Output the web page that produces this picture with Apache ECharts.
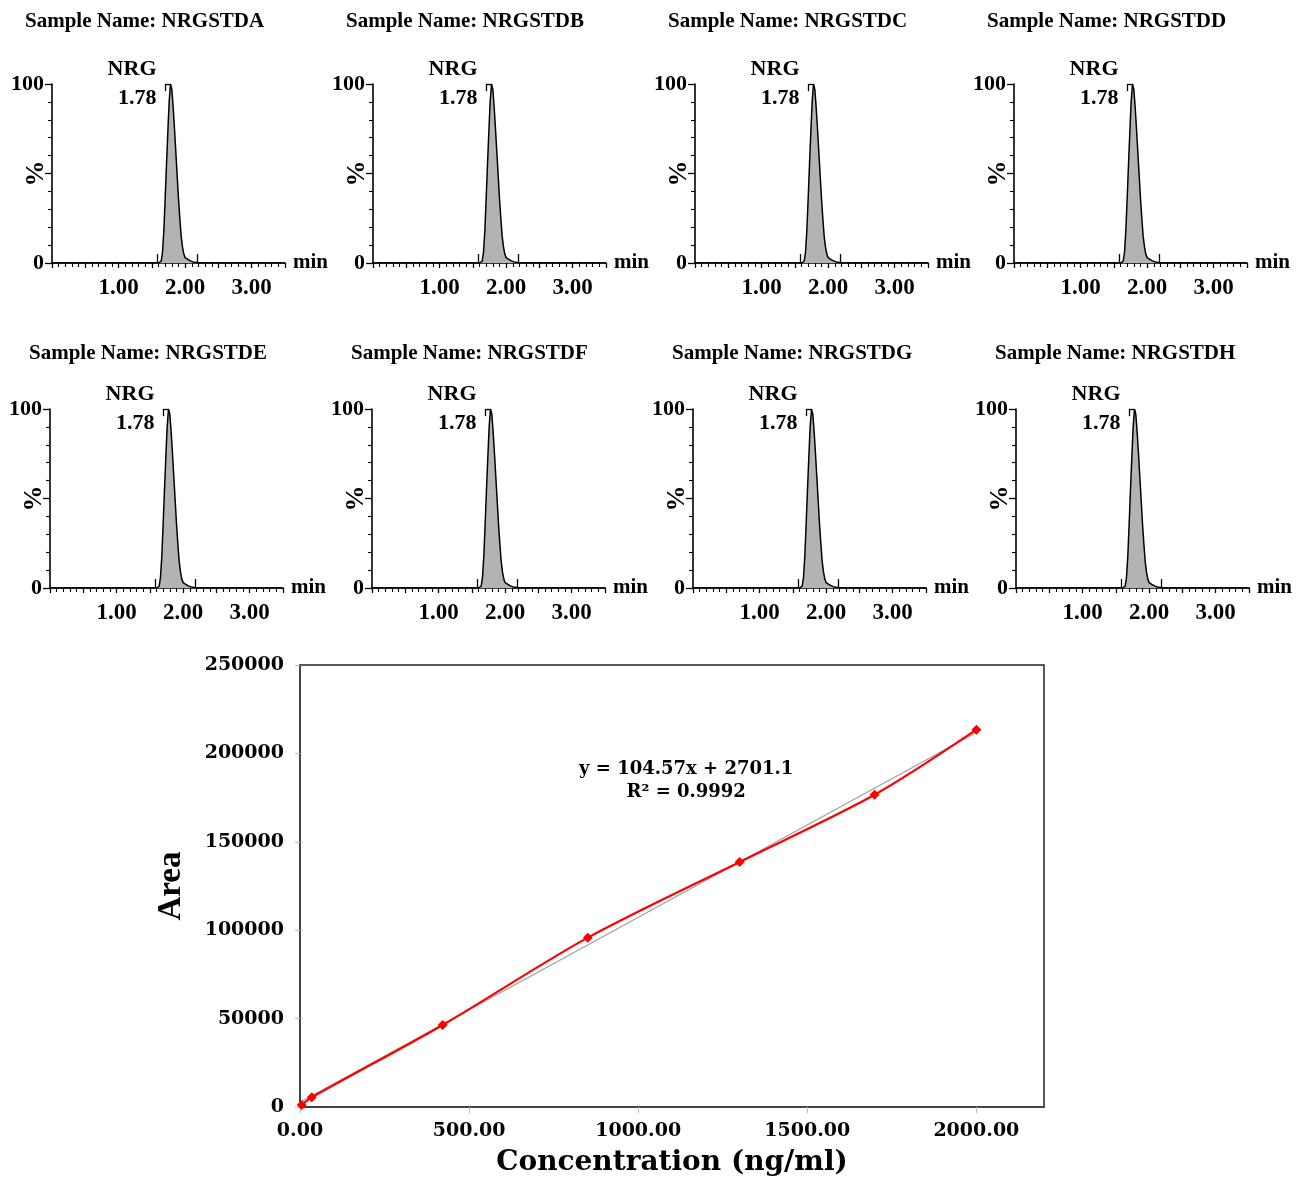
<!DOCTYPE html>
<html><head><meta charset="utf-8">
<script src="https://cdn.jsdelivr.net/npm/echarts@6/dist/echarts.min.js"></script>
<style>html,body{margin:0;padding:0;background:#fff}#c{width:1304px;height:1177px}</style>
</head><body><div id="c"></div><script>
// ---- data ----
const sampleNames = ['NRGSTDA','NRGSTDB','NRGSTDC','NRGSTDD','NRGSTDE','NRGSTDF','NRGSTDG','NRGSTDH'];
const peakName = 'NRG';
const retentionTime = 1.78;
const traceTime = [0, 1.60, 1.64, 1.66, 1.68, 1.70, 1.72, 1.74, 1.76, 1.78, 1.80, 1.82, 1.84, 1.86, 1.88, 1.90, 1.92, 1.94, 1.96, 1.98, 2.00, 2.04, 2.08, 2.12, 2.17, 2.22, 3.5];
const traceIntensity = [0, 0, 1, 6, 18, 36, 55, 73, 90, 100, 97, 87, 75, 62, 49, 36, 25, 15, 9, 5, 3, 2, 1.2, 0.6, 0.3, 0, 0];
const integrationMarks = [1.58, 2.18];
const rtTickLabels = [1, 2, 3];
const calConc = [5, 35, 422, 851, 1300, 1699, 2000];
const calArea = [1130, 5480, 46400, 95800, 138600, 176600, 213400];
const trendConc = [0, 2000];
const trendArea = [2701.1, 211841.1];
const concTicks = [0, 500, 1000, 1500, 2000];
const equationText = 'y = 104.57x + 2701.1';
const r2Text = 'R\u00b2 = 0.9992';

// ---- layout ----
const colLeft = [[52, 373, 695, 1014], [50, 372, 693, 1016]];
const rowTop = [84, 409];
const titleOffset = [27, 21];
const titleTop = [11, 343];
const PW = 233, PH = 179;
const SERIF = 'Liberation Serif';
const WIDE = 'DejaVu Serif';

const grids = [], xAxes = [], yAxes = [], series = [], titles = [];
const trace = traceTime.map((t, i) => [t, traceIntensity[i]]);

sampleNames.forEach((name, i) => {
  const r = Math.floor(i / 4), c = i % 4;
  const left = colLeft[r][c], top = rowTop[r];
  grids.push({left: left, top: top, width: PW, height: PH, containLabel: false, outerBoundsMode: 'none'});
  titles.push({text: 'Sample Name: ' + name, left: left - titleOffset[r], top: titleTop[r], padding: 0,
    textStyle: {fontFamily: SERIF, fontWeight: 'bold', fontSize: 21, color: '#000'}});
  xAxes.push({type: 'value', gridIndex: i, min: 0, max: 3.5, interval: 0.5,
    axisLine: {show: true, onZero: false, lineStyle: {color: '#000', width: 1.6}},
    axisTick: {show: true, length: 5, lineStyle: {color: '#000', width: 1.3}},
    minorTick: {show: true, splitNumber: 5, length: 4, lineStyle: {color: '#000', width: 1.1}},
    splitLine: {show: false}, minorSplitLine: {show: false},
    axisLabel: {margin: 14, color: '#000', fontFamily: SERIF, fontWeight: 'bold', fontSize: 23,
      formatter: v => rtTickLabels.indexOf(v) >= 0 ? v.toFixed(2) : ''},
    name: 'min', nameLocation: 'end', nameGap: 8, nameMoveOverlap: false,
    nameTextStyle: {color: '#000', fontFamily: SERIF, fontWeight: 'bold', fontSize: 21}});
  yAxes.push({type: 'value', gridIndex: i, min: 0, max: 100, interval: 50,
    axisLine: {show: true, lineStyle: {color: '#000', width: 1.6}},
    axisTick: {show: true, length: 7, lineStyle: {color: '#000', width: 1.3}},
    minorTick: {show: true, splitNumber: 5, length: 4, lineStyle: {color: '#000', width: 1.1}},
    splitLine: {show: false}, minorSplitLine: {show: false},
    axisLabel: {margin: 8, color: '#000', fontFamily: SERIF, fontWeight: 'bold', fontSize: 22,
      formatter: v => (v === 50 ? '' : String(v))},
    name: '%', nameLocation: 'middle', nameRotate: 90, nameGap: 3, nameMoveOverlap: false,
    nameTextStyle: {color: '#000', fontFamily: SERIF, fontWeight: 'bold', fontSize: 26}});
  series.push({type: 'line', xAxisIndex: i, yAxisIndex: i, data: trace, symbol: 'none',
    lineStyle: {color: '#000', width: 1.5}, areaStyle: {color: '#b3b3b3', opacity: 1},
    markLine: {silent: true, symbol: ['none', 'none'], label: {show: false},
      lineStyle: {color: '#000', width: 1.3, type: 'solid'},
      data: [
        [{coord: [integrationMarks[0], 0]}, {coord: [integrationMarks[0], 5]}],
        [{coord: [integrationMarks[1], 0]}, {coord: [integrationMarks[1], 5]}],
        [{coord: [retentionTime - 0.08, 100]}, {coord: [retentionTime, 100]}],
        [{coord: [retentionTime - 0.08, 100]}, {coord: [retentionTime - 0.08, 96]}]
      ]},
    markPoint: {silent: true, symbol: 'circle', symbolSize: 0,
      data: [{coord: [retentionTime, 100]}],
      label: {show: true, position: 'left', distance: 14, align: 'right',
        formatter: peakName + '\n' + retentionTime.toFixed(2),
        color: '#000', fontFamily: SERIF, fontWeight: 'bold', fontSize: 22, lineHeight: 29}}
  });
});

// calibration curve
const ci = 8;
grids.push({left: 300, top: 665, width: 744, height: 442, show: true, borderColor: '#222', borderWidth: 1.5,
  backgroundColor: '#fff', containLabel: false, outerBoundsMode: 'none'});
xAxes.push({type: 'value', gridIndex: ci, min: 0, max: 2200, interval: 500,
  axisLine: {show: true, onZero: false, lineStyle: {color: '#444', width: 2}},
  axisTick: {show: true, length: 6, customValues: concTicks, lineStyle: {color: '#bbb', width: 1}},
  splitLine: {show: false},
  axisLabel: {margin: 15, customValues: concTicks, color: '#000', fontFamily: WIDE, fontWeight: 'bold', fontSize: 19,
    formatter: v => v.toFixed(2)},
  name: 'Concentration (ng/ml)', nameLocation: 'middle', nameGap: 42, nameMoveOverlap: false,
  nameTextStyle: {color: '#000', fontFamily: WIDE, fontWeight: 'bold', fontSize: 28}});
yAxes.push({type: 'value', gridIndex: ci, min: 0, max: 250000, interval: 50000,
  axisLine: {show: true, lineStyle: {color: '#444', width: 2}},
  axisTick: {show: true, length: 5, lineStyle: {color: '#bbb', width: 1}},
  splitLine: {show: false},
  axisLabel: {margin: 16, color: '#000', fontFamily: WIDE, fontWeight: 'bold', fontSize: 19,
    formatter: v => String(v)},
  name: 'Area', nameLocation: 'middle', nameRotate: 90, nameGap: 112, nameMoveOverlap: false,
  nameTextStyle: {color: '#000', fontFamily: SERIF, fontWeight: 'bold', fontSize: 33}});
series.push({type: 'line', xAxisIndex: ci, yAxisIndex: ci, data: trendConc.map((x, i) => [x, trendArea[i]]),
  symbol: 'none', lineStyle: {color: '#a0a0a0', width: 1.3}, z: 2,
  markPoint: {silent: true, symbol: 'circle', symbolSize: 0,
    data: [{coord: [1142, 184700]}],
    label: {show: true, position: 'inside', formatter: equationText + '\n' + r2Text, align: 'center',
      color: '#000', fontFamily: WIDE, fontWeight: 'bold', fontSize: 18, lineHeight: 23}}});
series.push({type: 'line', xAxisIndex: ci, yAxisIndex: ci, data: calConc.map((x, i) => [x, calArea[i]]),
  smooth: 0.3, symbol: 'diamond', symbolSize: 10, itemStyle: {color: '#ff0000'},
  lineStyle: {color: '#ff0000', width: 2.2}, z: 3});

const chart = echarts.init(document.getElementById('c'), null, {renderer: 'canvas'});
chart.setOption({backgroundColor: '#fff', animation: false, title: titles, grid: grids, xAxis: xAxes, yAxis: yAxes, series: series});
</script></body></html>
